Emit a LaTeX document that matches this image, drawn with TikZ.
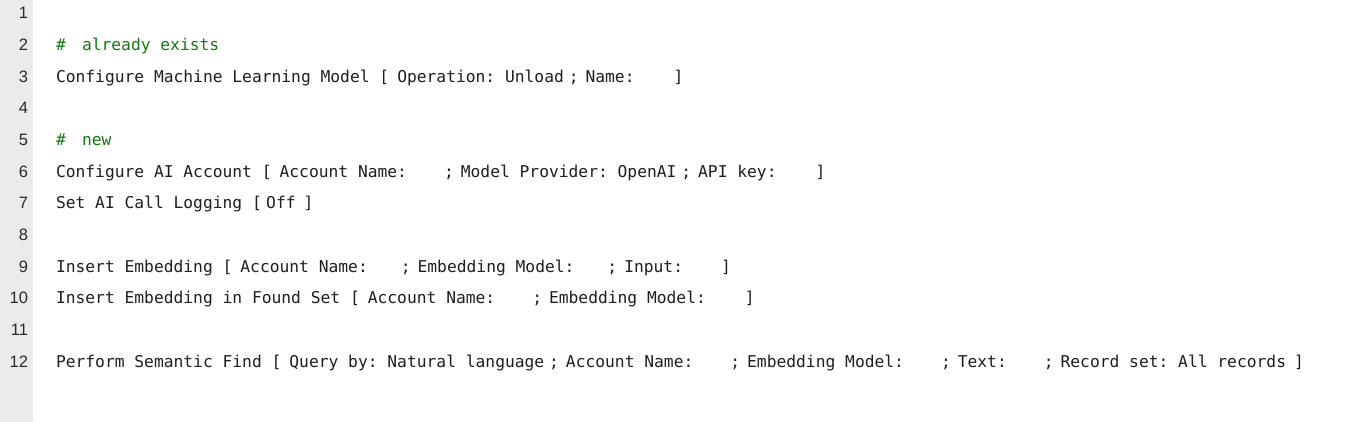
\documentclass[tikz,border=0pt]{standalone}
\usepackage{fontspec}
\usetikzlibrary{positioning}
\newfontfamily\codefont{DejaVu Sans Mono}
\newfontfamily\numfont{Liberation Sans}
\definecolor{ink}{HTML}{1E1E1E}
\definecolor{cmt}{HTML}{147814}
\definecolor{gut}{HTML}{EBEBEB}
\definecolor{numc}{HTML}{2A2A2A}
\begin{document}
\begin{tikzpicture}[x=1pt,y=-1pt,
  code/.style={inner sep=0pt, outer sep=0pt, font=\codefont\fontsize{16.28}{18}\selectfont, text=ink},
  cmtx/.style={code, text=cmt},
  num/.style={inner sep=0pt, outer sep=0pt, font=\numfont\fontsize{16.5}{18}\selectfont, text=numc, anchor=base east},
  start/.style={code, anchor=base west}]
\fill[white] (0,0) rectangle (1352,422);
\fill[gut] (0,0) rectangle (33,422);
\useasboundingbox (0,0) rectangle (1352,422);
\foreach \i in {1,...,12} \node[num] (n\i) at (28, {19+31.64*(\i-1)}) {\i};
% row 2
\node[cmtx, anchor=base west] (c2h) at (56,50.64) {\#};
\node[cmtx, anchor=base west] (c2t) at (82,50.64) {already exists};
% row 3
\node[start] (s3) at (56,82.28) {Configure Machine Learning Model};
\node[code, base right=9.8pt of s3] (s3o) {[};
\node[code, base right=8pt of s3o] (s3l1) {Operation:};
\node[code, base right=9.8pt of s3l1] (s3v1) {Unload};
\node[code, base right=4.9pt of s3v1] (s3s1) {;};
\node[code, base right=7pt of s3s1] (s3l2) {Name:};
\node[code, base right=39pt of s3l2] (s3c) {]};
% row 5
\node[cmtx, anchor=base west] (c5h) at (56,145.56) {\#};
\node[cmtx, anchor=base west] (c5t) at (82,145.56) {new};
% row 6
\node[start] (s6) at (56,177.2) {Configure AI Account};
\node[code, base right=9.8pt of s6] (s6o) {[};
\node[code, base right=8pt of s6o] (s6l1) {Account Name:};
\node[code, base right=37pt of s6l1] (s6s1) {;};
\node[code, base right=7pt of s6s1] (s6l2) {Model Provider:};
\node[code, base right=9.8pt of s6l2] (s6v2) {OpenAI};
\node[code, base right=4.9pt of s6v2] (s6s2) {;};
\node[code, base right=7pt of s6s2] (s6l3) {API key:};
\node[code, base right=39pt of s6l3] (s6c) {]};
% row 7
\node[start] (s7) at (56,208.84) {Set AI Call Logging};
\node[code, base right=9.8pt of s7] (s7o) {[};
\node[code, base right=4.4pt of s7o] (s7v1) {Off};
\node[code, base right=8pt of s7v1] (s7c) {]};
% row 9
\node[start] (s9) at (56,272.12) {Insert Embedding};
\node[code, base right=9.8pt of s9] (s9o) {[};
\node[code, base right=8pt of s9o] (s9l1) {Account Name:};
\node[code, base right=33pt of s9l1] (s9s1) {;};
\node[code, base right=7pt of s9s1] (s9l2) {Embedding Model:};
\node[code, base right=33pt of s9l2] (s9s2) {;};
\node[code, base right=7pt of s9s2] (s9l3) {Input:};
\node[code, base right=38pt of s9l3] (s9c) {]};
% row 10
\node[start] (s10) at (56,303.76) {Insert Embedding in Found Set};
\node[code, base right=9.8pt of s10] (s10o) {[};
\node[code, base right=8pt of s10o] (s10l1) {Account Name:};
\node[code, base right=37pt of s10l1] (s10s1) {;};
\node[code, base right=7pt of s10s1] (s10l2) {Embedding Model:};
\node[code, base right=39pt of s10l2] (s10c) {]};
% row 12
\node[start] (s12) at (56,367.04) {Perform Semantic Find};
\node[code, base right=9.8pt of s12] (s12o) {[};
\node[code, base right=8pt of s12o] (s12l1) {Query by:};
\node[code, base right=9.8pt of s12l1] (s12v1) {Natural language};
\node[code, base right=4.9pt of s12v1] (s12s1) {;};
\node[code, base right=7pt of s12s1] (s12l2) {Account Name:};
\node[code, base right=37pt of s12l2] (s12s2) {;};
\node[code, base right=7pt of s12s2] (s12l3) {Embedding Model:};
\node[code, base right=37pt of s12l3] (s12s3) {;};
\node[code, base right=7pt of s12s3] (s12l4) {Text:};
\node[code, base right=37pt of s12l4] (s12s4) {;};
\node[code, base right=7pt of s12s4] (s12l5) {Record set:};
\node[code, base right=9.8pt of s12l5] (s12v5) {All records};
\node[code, base right=8pt of s12v5] (s12c) {]};
\end{tikzpicture}
\end{document}
